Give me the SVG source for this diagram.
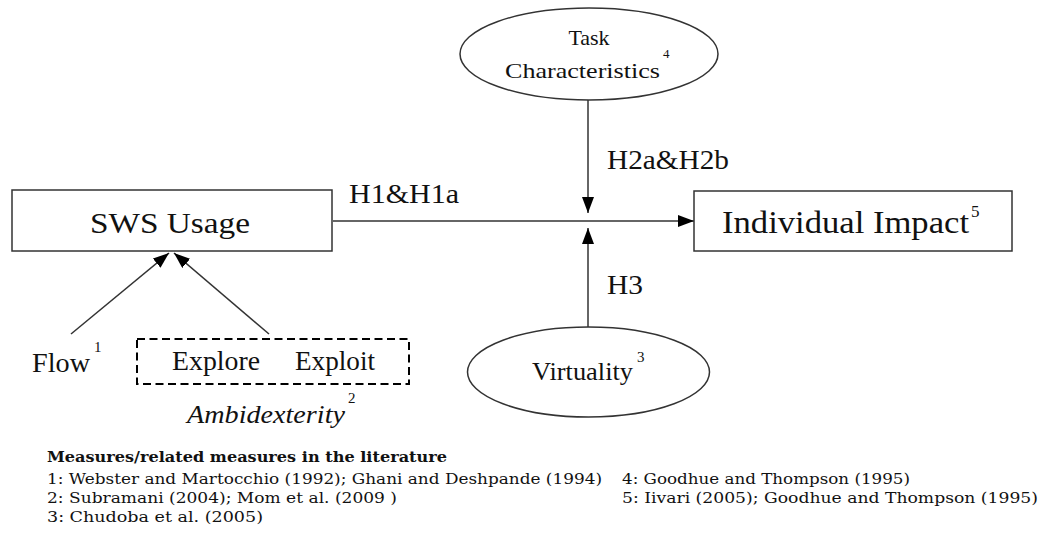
<svg xmlns="http://www.w3.org/2000/svg" width="1041" height="545" viewBox="0 0 1041 545">
<defs>
<marker id="arr" viewBox="0 0 16 12" refX="16" refY="6" markerWidth="16" markerHeight="12" markerUnits="userSpaceOnUse" orient="auto">
<path d="M0,0 L16,6 L0,12 Z" fill="#000"/>
</marker>
</defs>
<style>
.box{fill:#fff;stroke:#333;stroke-width:1.5}
.ell{fill:#fff;stroke:#333;stroke-width:1.5}
.dash{fill:none;stroke:#000;stroke-width:2;stroke-dasharray:8 4.5}
.ln{stroke:#333;stroke-width:1.5;fill:none}
text{fill:#111}
</style>
<rect width="1041" height="545" fill="#fff"/>
<g font-family="Liberation Serif, Times New Roman, DejaVu Serif, serif">
<g id="connectors">
<line class="ln" x1="333" y1="221" x2="694" y2="221" marker-end="url(#arr)"/>
<line class="ln" x1="588" y1="100" x2="588" y2="213" marker-end="url(#arr)"/>
<line class="ln" x1="588" y1="327" x2="588" y2="228" marker-end="url(#arr)"/>
<line class="ln" x1="71" y1="334" x2="169" y2="253" marker-end="url(#arr)"/>
<line class="ln" x1="269" y1="334" x2="174" y2="253" marker-end="url(#arr)"/>
<text x="349" y="203" font-size="28" textLength="110" lengthAdjust="spacingAndGlyphs">H1&amp;H1a</text>
<text x="607" y="169" font-size="28" textLength="122" lengthAdjust="spacingAndGlyphs">H2a&amp;H2b</text>
<text x="607" y="294" font-size="28" textLength="36" lengthAdjust="spacingAndGlyphs">H3</text>
</g>
<g id="sws-usage">
<rect class="box" x="12" y="190" width="320" height="61"/>
<text x="90" y="233" font-size="30" textLength="160" lengthAdjust="spacingAndGlyphs">SWS Usage</text>
</g>
<g id="individual-impact">
<rect class="box" x="694" y="191" width="318" height="60"/>
<text x="722" y="233" font-size="32" textLength="247" lengthAdjust="spacingAndGlyphs">Individual Impact</text>
<text x="971" y="217" font-size="17">5</text>
</g>
<g id="task-characteristics">
<ellipse class="ell" cx="589" cy="54" rx="129" ry="46"/>
<text x="589" y="45" font-size="22" text-anchor="middle">Task</text>
<text x="505" y="78" font-size="22" textLength="155" lengthAdjust="spacingAndGlyphs">Characteristics</text>
<text x="663" y="58" font-size="13">4</text>
</g>
<g id="virtuality">
<ellipse class="ell" cx="588.5" cy="372" rx="121" ry="45"/>
<text x="532" y="380" font-size="26" textLength="101" lengthAdjust="spacingAndGlyphs">Virtuality</text>
<text x="637" y="362" font-size="15">3</text>
</g>
<g id="flow">
<text x="32" y="372" font-size="28" textLength="58" lengthAdjust="spacingAndGlyphs">Flow</text>
<text x="94" y="352" font-size="15">1</text>
</g>
<g id="ambidexterity">
<rect class="dash" x="137" y="339" width="272" height="45"/>
<text x="172" y="370" font-size="27" textLength="88" lengthAdjust="spacingAndGlyphs">Explore</text>
<text x="295" y="370" font-size="27" textLength="80" lengthAdjust="spacingAndGlyphs">Exploit</text>
<text x="187" y="423" font-size="26" font-style="italic" textLength="158" lengthAdjust="spacingAndGlyphs">Ambidexterity</text>
<text x="348" y="403" font-size="15">2</text>
</g>
</g>
<g id="references" font-family="DejaVu Serif, Liberation Serif, serif" font-size="15">
<text x="47" y="462" font-weight="bold" textLength="400" lengthAdjust="spacingAndGlyphs">Measures/related measures in the literature</text>
<text x="47" y="484" textLength="555" lengthAdjust="spacingAndGlyphs">1: Webster and Martocchio (1992); Ghani and Deshpande (1994)</text>
<text x="622" y="484" textLength="288" lengthAdjust="spacingAndGlyphs">4: Goodhue and Thompson (1995)</text>
<text x="47" y="503" textLength="350" lengthAdjust="spacingAndGlyphs">2: Subramani (2004); Mom et al. (2009 )</text>
<text x="622" y="503" textLength="416" lengthAdjust="spacingAndGlyphs">5: Iivari (2005); Goodhue and Thompson (1995)</text>
<text x="47" y="522" textLength="216" lengthAdjust="spacingAndGlyphs">3: Chudoba et al.  (2005)</text>
</g>
</svg>
